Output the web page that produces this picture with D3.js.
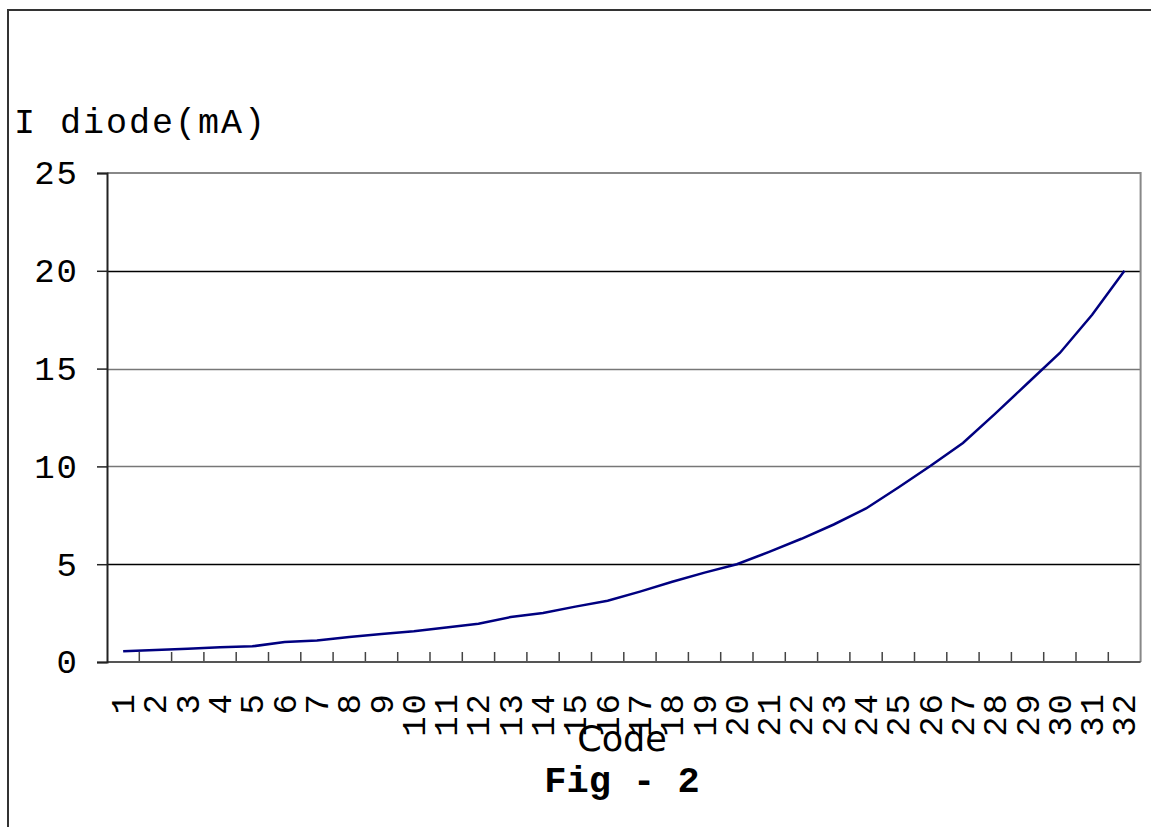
<!DOCTYPE html>
<html>
<head>
  <meta charset="utf-8">
  <script src="https://d3js.org/d3.v7.min.js"></script>
  <style>
    body { margin:0; background:#fff; }
    text { font-family: "Liberation Mono", monospace; fill:#000; }
    .tick text { font-size: 34px; letter-spacing: 2px; }
    .axis-title { font-family: "DejaVu Sans", sans-serif; }
  </style>
</head>
<body>
  <script>
    var codes = d3.range(1, 33).map(String);
    var current = [0.55, 0.61, 0.68, 0.75, 0.8, 1.02, 1.1, 1.28, 1.43, 1.57,
                   1.76, 1.96, 2.3, 2.5, 2.83, 3.13, 3.6, 4.1, 4.57, 5.0,
                   5.63, 6.3, 7.03, 7.85, 8.92, 10.03, 11.2, 12.7, 14.25, 15.8,
                   17.75, 20.0];
    var yTicks = [0, 5, 10, 15, 20, 25];

    var W = 1151, H = 827;
    var margin = {top: 173, left: 107, right: 10.4, bottom: 165};
    var width = W - margin.left - margin.right,
        height = H - margin.top - margin.bottom;

    var svg = d3.select("body").append("svg")
        .attr("width", W)
        .attr("height", H);

    // outer chart frame
    svg.append("rect")
        .attr("x", 8).attr("y", 10)
        .attr("width", 1300).attr("height", 1000)
        .attr("fill", "none")
        .attr("stroke", "#333")
        .attr("stroke-width", 2);

    var g = svg.append("g")
        .attr("transform", "translate(" + margin.left + "," + margin.top + ")");

    var x = d3.scaleBand().domain(codes).range([0, width]);
    var y = d3.scaleLinear().domain([0, 25]).range([height, 0]);

    // gridlines
    g.selectAll(".grid")
        .data(yTicks.slice(1, -1))
        .enter().append("line")
        .attr("x1", 0).attr("x2", width)
        .attr("y1", d => Math.round(y(d)) + 0.5)
        .attr("y2", d => Math.round(y(d)) + 0.5)
        .attr("stroke", d => (d === 10 || d === 15) ? "#777" : "#000")
        .attr("stroke-width", 1.3);

    // plot border top / right
    g.append("path")
        .attr("d", "M0,0H" + width + "V" + height)
        .attr("fill", "none")
        .attr("stroke", "#888")
        .attr("stroke-width", 2);

    // x axis ticks between categories (inward)
    g.selectAll(".xtick")
        .data(d3.range(1, codes.length))
        .enter().append("line")
        .attr("x1", d => x(codes[d]))
        .attr("x2", d => x(codes[d]))
        .attr("y1", height)
        .attr("y2", height - 10)
        .attr("stroke", "#444")
        .attr("stroke-width", 1.5);

    g.append("line")
        .attr("x1", 0).attr("x2", width)
        .attr("y1", height).attr("y2", height)
        .attr("stroke", "#555")
        .attr("stroke-width", 2);

    // x labels, rotated
    g.selectAll(".xlab")
        .data(codes)
        .enter().append("text")
        .attr("class", "xlab")
        .attr("transform", d => "translate(" + (x(d) + x.bandwidth() / 2 + 11) + "," + (height + 30) + ") rotate(-90)")
        .attr("text-anchor", "end")
        .style("font-size", "34px")
        .style("letter-spacing", "2px")
        .text(d => d);

    // y axis
    var yAxis = d3.axisLeft(y).tickValues(yTicks).tickSize(10).tickPadding(18);
    var ya = g.append("g").call(yAxis);
    ya.select(".domain").attr("stroke", "#222").attr("stroke-width", 2);
    ya.selectAll(".tick line").attr("stroke", "#222").attr("stroke-width", 1.5);
    ya.selectAll(".tick text").style("font-family", "Liberation Mono");

    // data line
    g.append("path")
        .datum(current)
        .attr("fill", "none")
        .attr("stroke", "#000080")
        .attr("stroke-width", 2.5)
        .attr("d", d3.line()
            .x((d, i) => x(codes[i]) + x.bandwidth() / 2)
            .y(d => y(d)));

    // titles
    svg.append("text")
        .attr("x", 14).attr("y", 133)
        .style("font-size", "35px")
        .style("letter-spacing", "2px")
        .text("I diode(mA)");

    svg.append("text")
        .attr("class", "axis-title")
        .attr("x", 622).attr("y", 751)
        .attr("text-anchor", "middle")
        .style("font-size", "35px")
        .text("Code");

    svg.append("text")
        .attr("x", 622).attr("y", 792)
        .attr("text-anchor", "middle")
        .style("font-size", "37px")
        .style("font-weight", "bold")
        .text("Fig - 2");
  </script>
</body>
</html>
